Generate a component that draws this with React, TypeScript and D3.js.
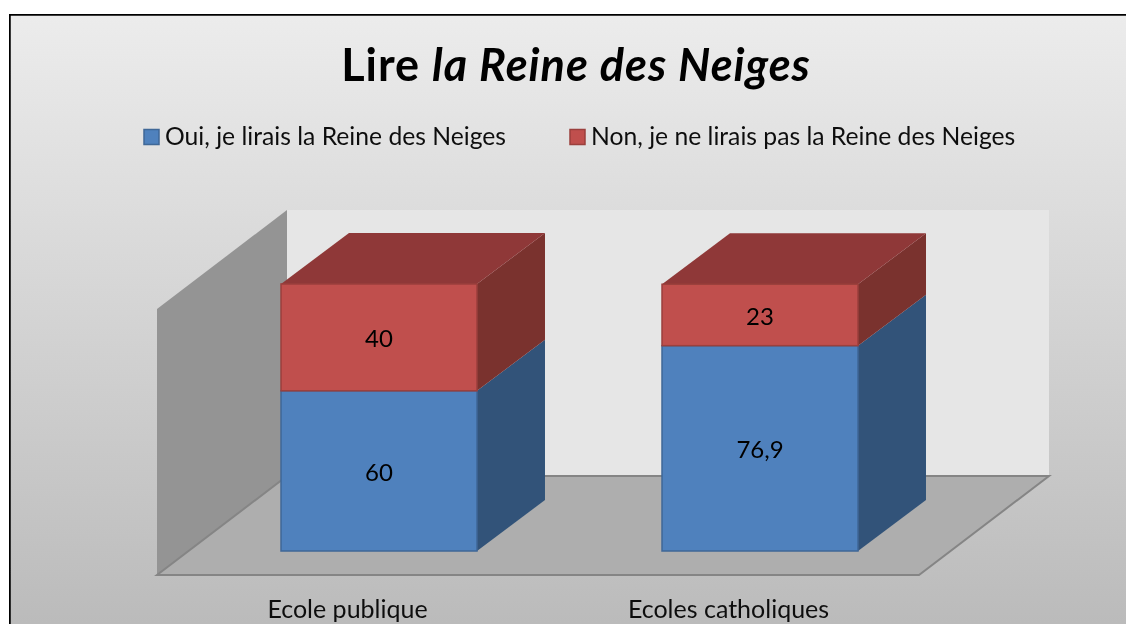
import React from "react";
import * as d3 from "d3";

const categories = ["Ecole publique", "Ecoles catholiques"];
const ouiValues = [60, 76.9];
const nonValues = [40, 23];
const legendLabels = ["Oui, je lirais la Reine des Neiges", "Non, je ne lirais pas la Reine des Neiges"];

const FONT = "Lato, Carlito, Calibri, sans-serif";
const width = 1126;
const height = 624;

// floor front edge and 3d offset of the plot box
const floor = { left: 157, right: 919, front: 575 };
const wallDepth = { dx: 130, dy: -99 };
const barDepth = { dx: 68, dy: -51 };
const wallHeight = 266;
const barPadding = 0.4856;

const COLORS = {
  blue: { front: "#4f81bd", side: "#315379", stroke: "#3f6797" },
  red: { front: "#c0504d", side: "#7a302e", top: "#8f3937", stroke: "#9b3f3c" },
};

const poly = (pts: number[][]) => d3.line()(pts as [number, number][]) + "Z";
const fmt = (v: number) => String(v).replace(".", ",");

export default function App() {
  // scales for the labels on the floor, and for the bars pushed back on it
  const xLabel = d3.scaleBand().domain(categories).range([floor.left, floor.right]);
  const xBar = d3
    .scaleBand()
    .domain(categories)
    .range([floor.left + 31.5, floor.right + 31.5])
    .paddingInner(barPadding)
    .paddingOuter(barPadding / 2);
  const y = d3.scaleLinear().domain([0, 100]).range([551, 284]);

  const series = [
    { key: "oui", values: ouiValues, color: COLORS.blue },
    { key: "non", values: nonValues, color: COLORS.red },
  ];

  const wallBack = floor.front + wallDepth.dy;
  const wallX = floor.left + wallDepth.dx;

  return (
    <svg
      width={width}
      height={height}
      style={{ position: "absolute", left: 0, top: 0, display: "block", fontFamily: FONT }}
    >
      <defs>
        <linearGradient id="bg" x1="0" y1="0" x2="0" y2="1">
          <stop offset="0" stopColor="#ececec" />
          <stop offset="1" stopColor="#b9b9b9" />
        </linearGradient>
        <filter id="soft" x="0" y="0" width="100%" height="100%">
          <feGaussianBlur stdDeviation="0.45" />
        </filter>
      </defs>
      <rect width={width} height={height} fill="#fff" />
      <g filter="url(#soft)">
        <rect x={9.5} y={14.5} width={width + 10} height={height + 10} fill="url(#bg)" stroke="#000" strokeWidth={2.5} />

        <text x={576} y={81} textAnchor="middle" fontSize={45} letterSpacing={1} fontWeight={700} fill="#000">
          Lire <tspan fontStyle="italic">la Reine des Neiges</tspan>
        </text>

        {legendLabels.map((label, i) => {
          const sx = [144, 570][i];
          const c = i === 0 ? COLORS.blue : COLORS.red;
          return (
            <g key={label}>
              <rect x={sx} y={129.5} width={15} height={15} fill={c.front} stroke={c.stroke} strokeWidth={1.5} />
              <text x={sx + 21} y={145} fontSize={24.7} fill="#111">
                {label}
              </text>
            </g>
          );
        })}

        {/* back wall, side wall, floor */}
        <rect x={wallX} y={wallBack - wallHeight} width={floor.right - floor.left} height={wallHeight} fill="#e6e6e6" />
        <path
          d={poly([
            [floor.left, floor.front - wallHeight],
            [wallX, wallBack - wallHeight],
            [wallX, wallBack],
            [floor.left, floor.front],
          ])}
          fill="#949494"
        />
        <path
          d={poly([
            [floor.left, floor.front],
            [floor.right, floor.front],
            [floor.right + wallDepth.dx, wallBack],
            [wallX, wallBack],
          ])}
          fill="#aeaeae"
          stroke="#858585"
          strokeWidth={2}
        />

        {categories.map((cat, i) => {
          const x0 = xBar(cat) as number;
          const x1 = x0 + xBar.bandwidth();
          let acc = 0;
          return (
            <g key={cat}>
              {series.map((s, si) => {
                const v = s.values[i];
                const yBase = y(acc);
                acc += v;
                const yTop = y(acc);
                const isLast = si === series.length - 1;
                return (
                  <g key={s.key}>
                    <path
                      d={poly([
                        [x1, yBase],
                        [x1 + barDepth.dx, yBase + barDepth.dy],
                        [x1 + barDepth.dx, yTop + barDepth.dy],
                        [x1, yTop],
                      ])}
                      fill={s.color.side}
                    />
                    {isLast && (
                      <path
                        d={poly([
                          [x0, yTop],
                          [x0 + barDepth.dx, yTop + barDepth.dy],
                          [x1 + barDepth.dx, yTop + barDepth.dy],
                          [x1, yTop],
                        ])}
                        fill={COLORS.red.top}
                      />
                    )}
                    <rect
                      x={x0}
                      y={yTop}
                      width={x1 - x0}
                      height={yBase - yTop}
                      fill={s.color.front}
                      stroke={s.color.stroke}
                      strokeWidth={1.5}
                    />
                    <text x={(x0 + x1) / 2} y={(yBase + yTop) / 2 + 10} textAnchor="middle" fontSize={24} fill="#000">
                      {fmt(v)}
                    </text>
                  </g>
                );
              })}
              <text
                x={(xLabel(cat) as number) + xLabel.bandwidth() / 2}
                y={618}
                textAnchor="middle"
                fontSize={25}
                fill="#111"
              >
                {cat}
              </text>
            </g>
          );
        })}
      </g>
    </svg>
  );
}
